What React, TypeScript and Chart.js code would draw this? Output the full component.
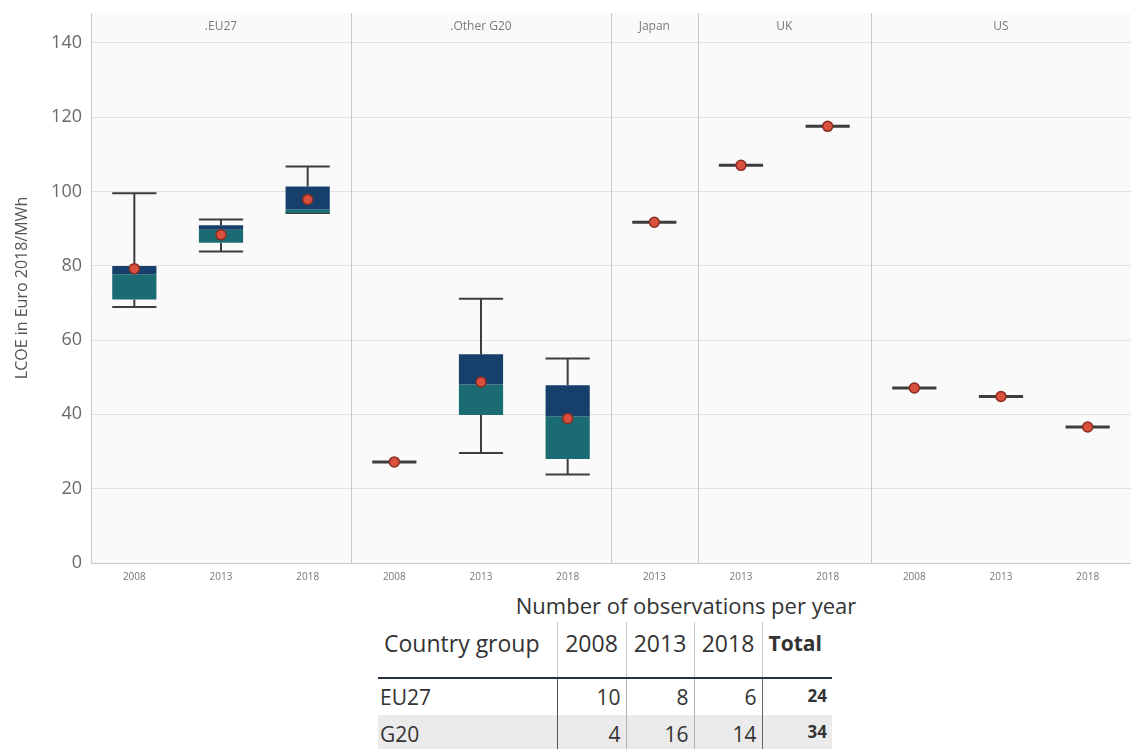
import React, { useEffect, useRef } from "react";
import { Chart, registerables } from "chart.js";
Chart.register(...registerables);

// ---------- data ----------
const categories = ["2008", "2013", "2018", "2008", "2013", "2018", "2013", "2013", "2018", "2008", "2013", "2018"];
const groups = [".EU27", ".Other G20", "Japan", "UK", "US"];
const groupSizes = [3, 3, 1, 2, 3];

const whiskerLow = [68.9, 83.8, 94.2, 27.2, 29.6, 23.8, 91.7, 107.0, 117.5, 47.1, 44.8, 36.6];
const q1 = [70.9, 86.2, 94.2, 27.2, 39.8, 28.0, 91.7, 107.0, 117.5, 47.1, 44.8, 36.6];
const median = [77.7, 89.7, 95.2, 27.2, 48.0, 39.5, 91.7, 107.0, 117.5, 47.1, 44.8, 36.6];
const q3 = [79.9, 90.9, 101.3, 27.2, 56.2, 47.8, 91.7, 107.0, 117.5, 47.1, 44.8, 36.6];
const whiskerHigh = [99.5, 92.4, 106.7, 27.2, 71.1, 55.0, 91.7, 107.0, 117.5, 47.1, 44.8, 36.6];
const means = [79.2, 88.3, 97.8, 27.2, 48.7, 38.9, 91.7, 107.0, 117.5, 47.1, 44.8, 36.6];

const yTicks = [0, 20, 40, 60, 80, 100, 120, 140];

const tableTitle = "Number of observations per year";
const tableHeader = ["Country group", "2008", "2013", "2018", "Total"];
const tableGroups = ["EU27", "G20"];
const obs2008 = [10, 4];
const obs2013 = [8, 16];
const obs2018 = [6, 14];
const obsTotal = [24, 34];

const FONT = "'Open Sans', 'Noto Sans', sans-serif";
const TEAL = "#1b6c72";
const NAVY = "#163f6b";

const decorPlugin = {
  id: "decor",
  beforeDraw(chart: any) {
    const { ctx, chartArea: a } = chart;
    ctx.save();
    ctx.fillStyle = "#fafafa";
    ctx.fillRect(a.left, a.top, a.right - a.left, a.bottom - a.top);
    ctx.restore();
  },
  beforeDatasetsDraw(chart: any) {
    const { ctx, chartArea: a, scales } = chart;
    const x = scales.x;
    const y = scales.y;
    ctx.save();
    // group separators & labels
    let idx = 0;
    groupSizes.forEach((n: number, g: number) => {
      const start = idx;
      idx += n;
      const step = x.getPixelForValue(1) - x.getPixelForValue(0);
      const left = x.getPixelForValue(start) - step / 2;
      const right = x.getPixelForValue(idx - 1) + step / 2;
      if (g < groupSizes.length - 1) {
        ctx.strokeStyle = "#c8c8c8";
        ctx.lineWidth = 1;
        ctx.beginPath();
        ctx.moveTo(Math.round(right) + 0.5, a.top);
        ctx.lineTo(Math.round(right) + 0.5, a.bottom);
        ctx.stroke();
      }
      ctx.fillStyle = "#7a7a7a";
      ctx.font = `12px ${FONT}`;
      ctx.textAlign = "center";
      ctx.textBaseline = "middle";
      ctx.fillText(groups[g], (left + right) / 2, a.top + 14);
    });
    // whiskers
    const meta = chart.getDatasetMeta(0);
    categories.forEach((_c: string, i: number) => {
      const cx = x.getPixelForValue(i);
      const bw = meta.data[i] ? meta.data[i].width : 44;
      const hw = bw / 2;
      ctx.strokeStyle = "#3d3d3d";
      ctx.lineWidth = 2;
      ctx.beginPath();
      ctx.moveTo(cx, y.getPixelForValue(whiskerLow[i]));
      ctx.lineTo(cx, y.getPixelForValue(q1[i]));
      ctx.moveTo(cx, y.getPixelForValue(q3[i]));
      ctx.lineTo(cx, y.getPixelForValue(whiskerHigh[i]));
      ctx.stroke();
      const single = whiskerLow[i] === whiskerHigh[i];
      ctx.lineWidth = single ? 3 : 2;
      ctx.beginPath();
      ctx.moveTo(cx - hw, y.getPixelForValue(whiskerLow[i]));
      ctx.lineTo(cx + hw, y.getPixelForValue(whiskerLow[i]));
      ctx.moveTo(cx - hw, y.getPixelForValue(whiskerHigh[i]));
      ctx.lineTo(cx + hw, y.getPixelForValue(whiskerHigh[i]));
      ctx.stroke();
    });
    ctx.restore();
  },
};

export default function App() {
  const ref = useRef<HTMLCanvasElement>(null);
  useEffect(() => {
    const chart = new Chart(ref.current as HTMLCanvasElement, {
      type: "bar",
      data: {
        labels: categories,
        datasets: [
          {
            type: "bar",
            label: "lower",
            data: q1.map((v, i) => [v, median[i]]) as any,
            backgroundColor: TEAL,
            borderWidth: 0,
            grouped: false,
            categoryPercentage: 1,
            barPercentage: 0.51,
            order: 3,
          },
          {
            type: "bar",
            label: "upper",
            data: median.map((v, i) => [v, q3[i]]) as any,
            backgroundColor: NAVY,
            borderWidth: 0,
            grouped: false,
            categoryPercentage: 1,
            barPercentage: 0.51,
            order: 2,
          },
          {
            type: "line",
            label: "mean",
            data: means,
            showLine: false,
            pointRadius: 5,
            pointBackgroundColor: "#d9503f",
            pointBorderColor: "#8a2d22",
            pointBorderWidth: 1.5,
            order: 1,
          } as any,
        ],
      },
      options: {
        animation: false,
        responsive: false,
        maintainAspectRatio: false,
        layout: { autoPadding: false, padding: { top: 13, right: 0, left: 0, bottom: 0 } },
        plugins: { legend: { display: false }, tooltip: { enabled: false } },
        scales: {
          x: {
            offset: true,
            grid: { display: false, drawTicks: false },
            border: { display: true, color: "#cccccc" },
            ticks: {
              color: "#777777",
              font: { family: FONT, size: 10 },
              padding: 8,
              maxRotation: 0,
              autoSkip: false,
            },
            afterFit: (s: any) => {
              s.height = 27;
              s.paddingLeft = 0;
              s.paddingRight = 0;
            },
          },
          y: {
            min: 0,
            max: 148,
            grid: { color: "#e2e2e2", drawTicks: false },
            border: { display: true, color: "#cccccc" },
            ticks: {
              color: "#6a6a6a",
              font: { family: FONT, size: 18 },
              padding: 9,
              stepSize: 20,
            },
            afterBuildTicks: (s: any) => {
              s.ticks = yTicks.map((v) => ({ value: v }));
            },
            title: {
              display: true,
              text: "LCOE in Euro 2018/MWh",
              color: "#555555",
              font: { family: FONT, size: 16 },
              padding: { top: 13, bottom: 0 },
            },
            afterFit: (s: any) => {
              s.width = 91;
              s.paddingTop = 0;
              s.paddingBottom = 0;
            },
          },
        },
      },
      plugins: [decorPlugin],
    });
    return () => chart.destroy();
  }, []);

  const colW = [179, 69, 68, 68, 70];
  const headSep = "1px solid #c3ccd6";
  const cellBase: React.CSSProperties = {
    padding: 0,
    boxSizing: "border-box",
    whiteSpace: "nowrap",
  };

  return (
    <div style={{ position: "absolute", left: 0, top: 0, width: 1131, height: 749, background: "#ffffff", overflow: "hidden", fontFamily: FONT }}>
      <canvas ref={ref} width={1131} height={590} style={{ position: "absolute", left: 0, top: 0, width: 1131, height: 590 }} />
      <div style={{ position: "absolute", left: 686, top: 592, transform: "translateX(-50%)", fontSize: 22, lineHeight: "26px", color: "#333333", whiteSpace: "nowrap" }}>
        {tableTitle}
      </div>
      <table style={{ position: "absolute", left: 378, top: 622, borderCollapse: "collapse", tableLayout: "fixed", width: 454, color: "#333333" }}>
        <colgroup>
          {colW.map((w, i) => (
            <col key={i} style={{ width: w }} />
          ))}
        </colgroup>
        <thead>
          <tr style={{ height: 56 }}>
            {tableHeader.map((h, i) => (
              <th
                key={i}
                style={{
                  ...cellBase,
                  fontSize: i === 4 ? 21 : 23,
                  lineHeight: "28px",
                  verticalAlign: "top",
                  paddingTop: 7,
                  fontWeight: i === 4 ? 700 : 400,
                  textAlign: i === 0 ? "left" : i === 4 ? "left" : "center",
                  paddingLeft: i === 0 ? 6 : i === 4 ? 6 : 0,
                  borderRight: i < 4 ? headSep : "none",
                  borderBottom: "2px solid #27323d",
                }}
              >
                {h}
              </th>
            ))}
          </tr>
        </thead>
        <tbody>
          {tableGroups.map((g, r) => {
            const vals = [obs2008[r], obs2013[r], obs2018[r]];
            return (
              <tr key={g} style={{ height: 37, background: r === 1 ? "#ebebeb" : "#ffffff" }}>
                <td style={{ ...cellBase, fontSize: 21, lineHeight: "36px", paddingLeft: 2, borderRight: "1.5px solid #4a5560" }}>{g}</td>
                {vals.map((v, i) => (
                  <td
                    key={i}
                    style={{
                      ...cellBase,
                      fontSize: 21,
                      lineHeight: "36px",
                      textAlign: "right",
                      paddingRight: 5,
                      borderRight: i === 2 ? "1.5px solid #5a6570" : "1px solid #a9b4bf",
                    }}
                  >
                    {v}
                  </td>
                ))}
                <td style={{ ...cellBase, fontSize: 17, lineHeight: "34px", fontWeight: 700, textAlign: "right", paddingRight: 5, verticalAlign: "top" }}>
                  {obsTotal[r]}
                </td>
              </tr>
            );
          })}
        </tbody>
      </table>
    </div>
  );
}
